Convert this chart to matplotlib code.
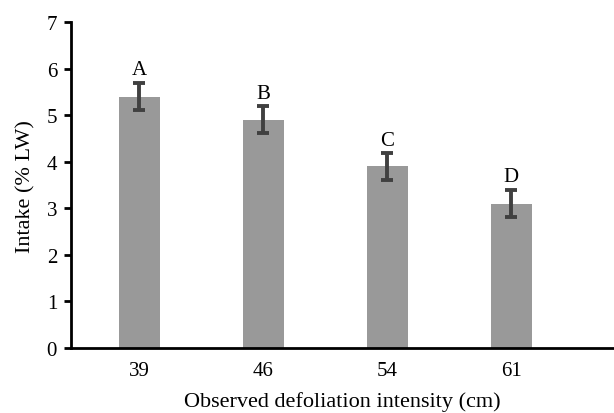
import matplotlib
matplotlib.use("Agg")
import matplotlib.pyplot as plt

categories = ["39", "46", "54", "61"]
values = [5.4, 4.9, 3.9, 3.1]
errors = [0.29, 0.29, 0.28, 0.29]
letters = ["A", "B", "C", "D"]

plt.rcParams['font.family'] = ['Liberation Serif', 'DejaVu Serif']

fig = plt.figure(figsize=(6.14, 4.14), dpi=100)
ax = fig.add_axes([0.1156, 0.157, 0.8844, 0.787])
x = list(range(len(categories)))
ax.bar(x, values, width=0.33, color="#999999", zorder=2)
ax.errorbar(x, values, yerr=errors, fmt="none", ecolor="#404040",
            elinewidth=2.8, capsize=4.5, capthick=2.8, zorder=3)
for xi, v, e, l in zip(x, values, errors, letters):
    ax.text(xi, v + e + 0.08, l, ha="center", va="bottom", fontsize=15)

ax.set_xlim(-0.55, 3.83)
ax.set_ylim(0, 7)
ax.set_yticks(range(0, 8))
ax.set_xticks(x)
ax.set_xticklabels(categories)
ax.tick_params(axis="x", length=0, labelsize=15, pad=9)
ax.tick_params(axis="y", length=5, width=2, labelsize=15, direction="out", pad=5)
for s in ["top", "right"]:
    ax.spines[s].set_visible(False)
ax.spines["left"].set_linewidth(2)
ax.spines["bottom"].set_linewidth(2)
ax.set_xlabel("Observed defoliation intensity (cm)", fontsize=16, labelpad=8)
ax.set_ylabel("Intake (% LW)", fontsize=16, labelpad=8)

fig.savefig("out.png", dpi=100)
